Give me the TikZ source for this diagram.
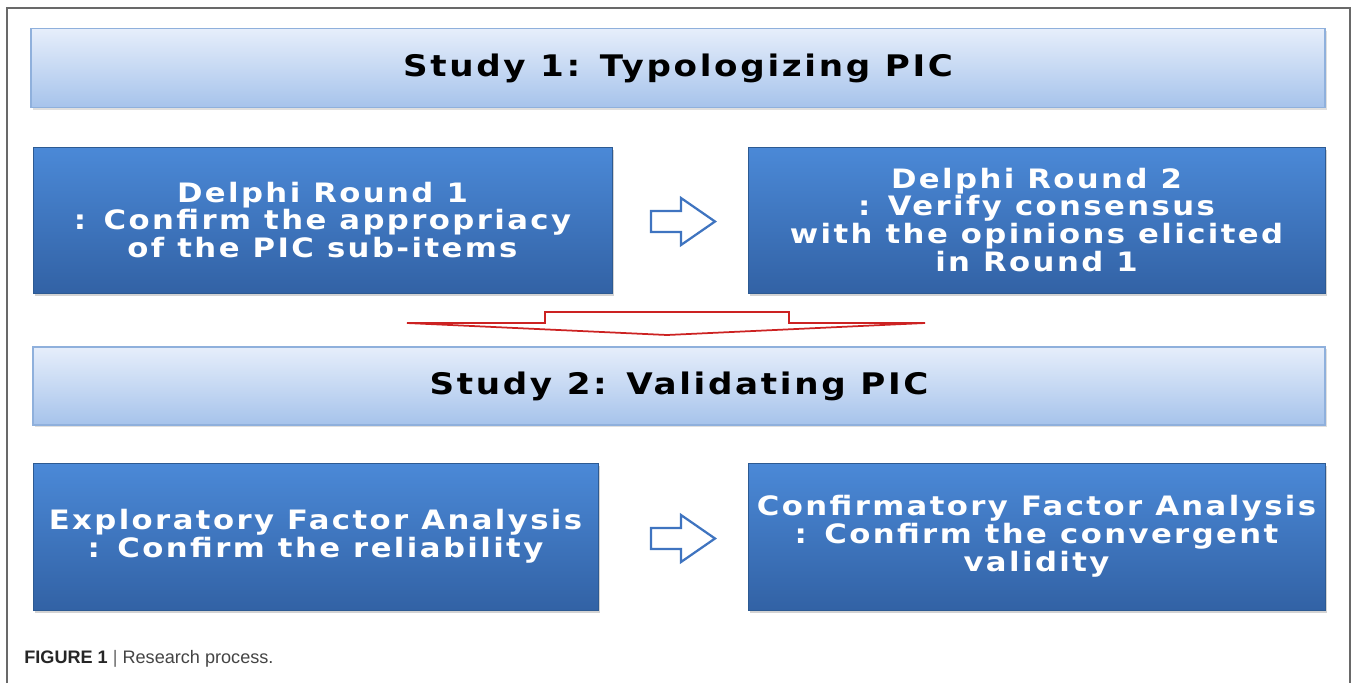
\documentclass[tikz,border=0pt]{standalone}
\usepackage{fontspec}
\setmainfont{Liberation Sans}
\newfontfamily\boxfont[LetterSpace=9, FakeStretch=1.15]{DejaVu Sans}
\usetikzlibrary{shadows}
\definecolor{lighttop}{HTML}{E6EEFB}
\definecolor{lightbottom}{HTML}{A6C3EB}
\definecolor{lightline}{HTML}{8FB0DC}
\definecolor{darktop}{HTML}{4B89D7}
\definecolor{darkbottom}{HTML}{3262A5}
\definecolor{darkline}{HTML}{2D5A92}
\definecolor{arrowblue}{HTML}{3F74C0}
\definecolor{arrowred}{HTML}{CC2222}
\definecolor{captiongray}{HTML}{444444}
\tikzset{
	titlebox/.style = {draw = lightline, line width = 0.3mm, top color = lighttop, bottom color = lightbottom,
		drop shadow = {opacity = 0.25, shadow xshift = 0.3mm, shadow yshift = -0.4mm},
		font = \boxfont\bfseries\fontsize{16.9}{19}\selectfont, text = black},
	stepbox/.style = {draw = darkline, line width = 0.2mm, top color = darktop, bottom color = darkbottom,
		drop shadow = {opacity = 0.35, shadow xshift = 0.4mm, shadow yshift = -0.6mm}, inner xsep = 1pt,
		font = \boxfont\bfseries\fontsize{15.2}{15.9}\selectfont, text = white, align = center},
	blockarrow/.style = {draw = arrowblue, line width = 0.45mm, fill = white, line join = miter}
}
\begin{document}
\begin{tikzpicture}[x = 0.2mm, y = -0.2mm]
	\useasboundingbox (0,0) rectangle (1358,683);
	\draw[captiongray!80, line width = 0.3mm] (7,683) -- (7,8) -- (1350,8) -- (1350,683);
	
	\node[titlebox, minimum width = 1294*0.2mm, minimum height = 79*0.2mm] (study1) at (678,68) {Study 1: Typologizing PIC};
	\node[stepbox, minimum width = 579*0.2mm, minimum height = 146*0.2mm] (round1) at (322.5,220)
		{Delphi Round 1\\: Confirm the appropriacy\\of the PIC sub-items};
	\node[stepbox, minimum width = 577*0.2mm, minimum height = 146*0.2mm] (round2) at (1036.5,220)
		{Delphi Round 2\\: Verify consensus\\with the opinions elicited\\in Round 1};
	\node[titlebox, minimum width = 1292*0.2mm, minimum height = 78*0.2mm] (study2) at (679,386) {Study 2: Validating PIC};
	\node[stepbox, minimum width = 565*0.2mm, minimum height = 147*0.2mm] (efa) at (315.5,536.5)
		{Exploratory Factor Analysis\\: Confirm the reliability};
	\node[stepbox, minimum width = 577*0.2mm, minimum height = 147*0.2mm] (cfa) at (1036.5,536.5)
		{Confirmatory Factor Analysis\\: Confirm the convergent\\validity};
	
	\coordinate (a1) at (651,221.5);
	\coordinate (a2) at (651,538.5);
	\foreach \a in {a1,a2}
		\draw[blockarrow] (\a) ++(0,-10.5) -- ++(30,0) -- ++(0,-13) -- ++(34,23.5) -- ++(-34,23.5) -- ++(0,-13) -- ++(-30,0) -- cycle;
	
	\coordinate (down) at (667,335);
	\draw[arrowred, line width = 0.35mm, fill = white, line join = miter] (down) -- (407,323) -- (545,323) -- (545,312)
		-- (789,312) -- (789,323) -- (925,323) -- cycle;
	
	\node[anchor = base west, inner sep = 0pt, font = \fontsize{10.3}{12}\selectfont, text = captiongray] (caption) at (24,663)
		{\textbf{\color{black!85}FIGURE 1} {\color{black!60}|} Research process.};
\end{tikzpicture}
\end{document}
